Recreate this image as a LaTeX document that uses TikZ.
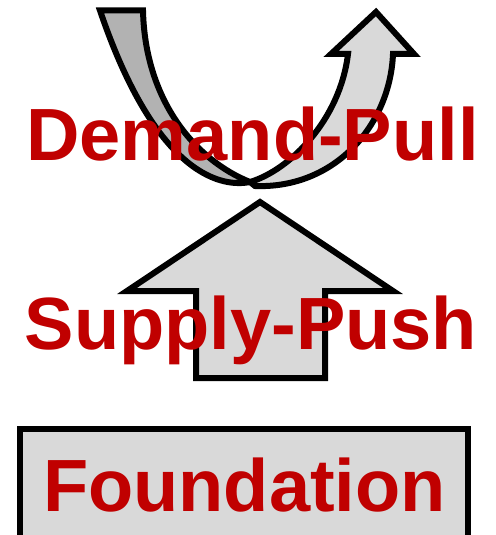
\documentclass[tikz,border=0pt]{standalone}
\usepackage{fontspec}
\setmainfont{Liberation Sans}
\definecolor{textred}{HTML}{C00000}
\definecolor{lightfill}{HTML}{D9D9D9}
\definecolor{darkfill}{HTML}{B2B2B2}

\begin{document}
\begin{tikzpicture}[x=1pt, y=-1pt,
    redtext/.style={text=textred, font=\fontsize{74}{79}\selectfont\bfseries, inner sep=0pt, anchor=base},
    outline/.style={draw=black, line width=6pt, line join=miter}]
    \clip (0,0) rectangle (495,535);
    % the turning arrow
    \coordinate (v) at (250,182);
    \draw[outline, fill=darkfill] (100,10.5) -- (143,10.5) .. controls (145,100) and (195,160) .. (v)
        .. controls (225,187) and (158,181) .. (100,10.5) -- cycle;
    \draw[outline, fill=lightfill] (v) .. controls (290,170) and (340,120) .. (348,54)
        -- (331,54) -- (376,12) -- (414,54) -- (393,54)
        .. controls (390,125) and (335,189) .. (255,186) -- cycle;
    % the straight arrow
    \draw[outline, fill=lightfill] (196,378) -- (196,291) -- (127,291) -- (260,202)
        -- (393,291) -- (325,291) -- (325,378) -- cycle;
    % the base
    \draw[outline, fill=lightfill] (20,428.5) rectangle (468,560);
    \node[redtext] (demand) at (252.5,160) {Demand-Pull};
    \node[redtext] (supply) at (251,349) {Supply-Push};
    \node[redtext] (found) at (244.5,511) {Foundation};
\end{tikzpicture}
\end{document}
